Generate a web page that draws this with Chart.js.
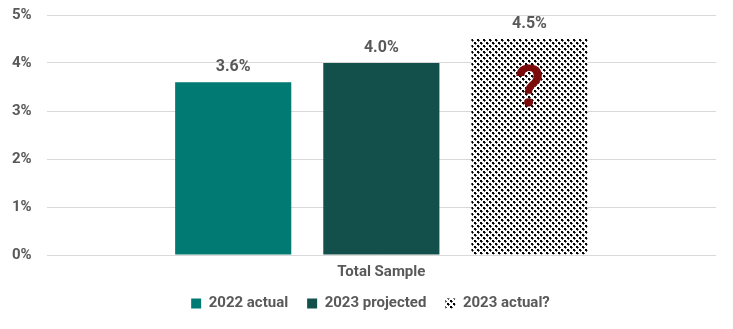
<!DOCTYPE html>
<html>
<head>
<meta charset="utf-8">
<script src="https://cdn.jsdelivr.net/npm/chart.js@4/dist/chart.umd.min.js"></script>
<style>
  html, body { margin: 0; padding: 0; background: #fff; }
  #wrap { width: 733px; height: 329px; }
</style>
</head>
<body>
<div id="wrap"><canvas id="chart"></canvas></div>
<script>
const categories = ["Total Sample"];
const seriesNames = ["2022 actual", "2023 projected", "2023 actual?"];
const actual2022 = [3.6];
const projected2023 = [4.0];
const actual2023 = [4.5];
const yTicks = [0, 1, 2, 3, 4, 5];

const textGray = "#595959";

// dotted black/white fill like the Excel pattern
function makePattern() {
    const c = document.createElement("canvas");
    c.width = 6;
    c.height = 6;
    const p = c.getContext("2d");
    p.fillStyle = "#fff";
    p.fillRect(0, 0, 6, 6);
    p.fillStyle = "#000";
    p.fillRect(0, 0, 2, 2);
    p.fillRect(3, 3, 2, 2);
    p.fillStyle = "#555";
    p.fillRect(2, 1, 1, 1);
    p.fillRect(5, 4, 1, 1);
    p.fillRect(1, 2, 1, 1);
    p.fillRect(4, 5, 1, 1);
    return p.createPattern(c, "repeat");
}

const valueLabels = {
    id: "valueLabels",
    afterDatasetsDraw(chart) {
        const ctx = chart.ctx;
        ctx.save();
        ctx.font = "bold 16px Roboto";
        ctx.fillStyle = textGray;
        ctx.textAlign = "center";
        ctx.textBaseline = "bottom";
        chart.data.datasets.forEach((ds, i) => {
            chart.getDatasetMeta(i).data.forEach((bar, j) => {
                ctx.fillText(ds.data[j].toFixed(1) + "%", bar.x, bar.y - 7);
            });
        });
        // question mark on the last bar
        const last = chart.getDatasetMeta(2).data[0];
        ctx.font = "bold 58px Roboto";
        ctx.fillStyle = "#7B0A0A";
        ctx.textBaseline = "middle";
        ctx.fillText("?", last.x, last.y + 52);
        ctx.restore();
    }
};

// legend rows sit closer to the category label than chart.js leaves room for
const legendNudge = {
    id: "legendNudge",
    afterLayout(chart) {
        const lg = chart.legend;
        lg.top -= 12;
        lg.bottom -= 12;
        lg.left += 7;
        lg.right += 7;
    }
};

const chart = new Chart(document.getElementById("chart"), {
    type: "bar",
    data: {
        labels: categories,
        datasets: [
            { label: seriesNames[0], data: actual2022, backgroundColor: "#007A72" },
            { label: seriesNames[1], data: projected2023, backgroundColor: "#13504C" },
            { label: seriesNames[2], data: actual2023, backgroundColor: makePattern() }
        ]
    },
    options: {
        responsive: true,
        maintainAspectRatio: false,
        animation: false,
        layout: { padding: { top: 15, right: 17, bottom: -4, left: 11 } },
        datasets: { bar: { barPercentage: 0.784, categoryPercentage: 0.664 } },
        scales: {
            x: {
                grid: { display: false, drawTicks: false },
                border: { display: false },
                ticks: { color: textGray, font: { family: "Roboto", weight: "bold", size: 15 }, padding: 8 }
            },
            y: {
                min: 0,
                max: 5,
                afterBuildTicks: axis => { axis.ticks = yTicks.map(v => ({ value: v })); },
                grid: { color: "#D9D9D9", lineWidth: 1, drawTicks: true, tickLength: 14, tickColor: "rgba(0,0,0,0)" },
                border: { display: false },
                ticks: {
                    color: textGray,
                    font: { family: "Roboto", weight: "bold", size: 15 },
                    padding: 1,
                    callback: v => v + "%"
                }
            }
        },
        plugins: {
            legend: {
                position: "bottom",
                labels: {
                    color: textGray,
                    font: { family: "Roboto", weight: "bold", size: 15 },
                    boxWidth: 10,
                    boxHeight: 10,
                    padding: 19
                }
            },
            tooltip: { enabled: false }
        }
    },
    plugins: [valueLabels, legendNudge]
});
</script>
</body>
</html>
